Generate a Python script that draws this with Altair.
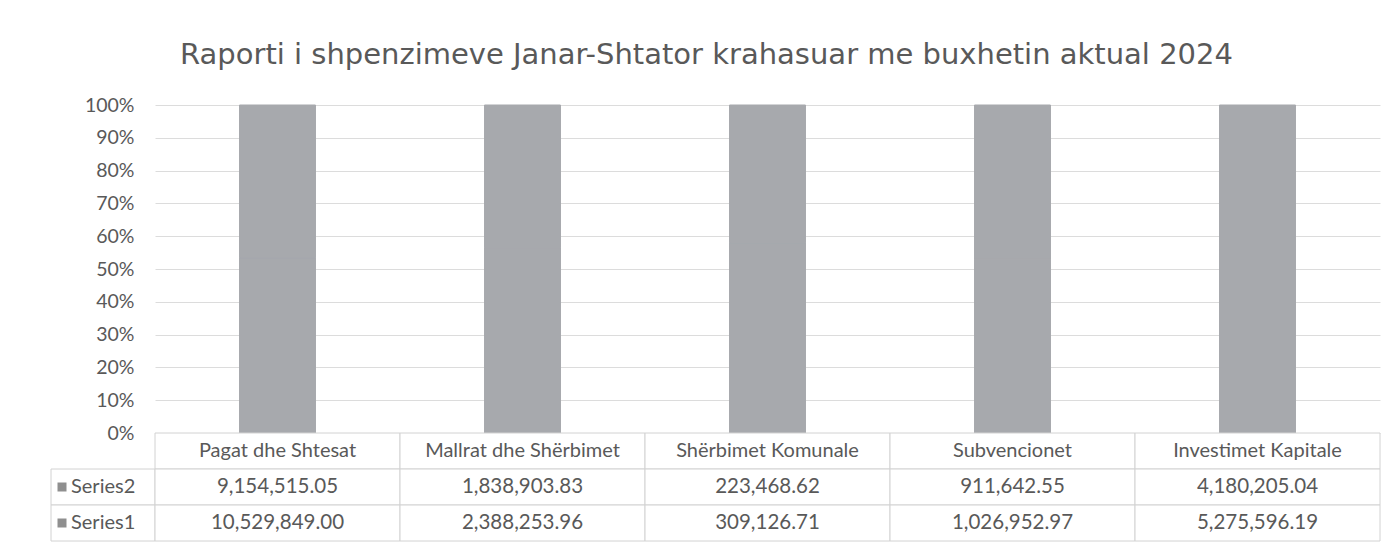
import altair as alt
import pandas as pd

categories = ["Pagat dhe Shtesat", "Mallrat dhe Shërbimet", "Shërbimet Komunale",
              "Subvencionet", "Investimet Kapitale"]
series2 = [9154515.05, 1838903.83, 223468.62, 911642.55, 4180205.04]
series1 = [10529849.00, 2388253.96, 309126.71, 1026952.97, 5275596.19]
series_names = ["Series2", "Series1"]
y_ticks = [0, 0.1, 0.2, 0.3, 0.4, 0.5, 0.6, 0.7, 0.8, 0.9, 1.0]
title_text = "Raporti i shpenzimeve Janar-Shtator krahasuar me buxhetin aktual 2024"

TFONT = "DejaVu Sans"
FONT = "Lato"
TXT = "#595959"
BAR = "#a7a9ad"
GRID = "#dcdcdc"
BORDER = "#d2d2d2"

rows = []
for c, v2, v1 in zip(categories, series2, series1):
    rows.append({"cat": c, "series": "Series1", "value": v1, "ord": 0})
    rows.append({"cat": c, "series": "Series2", "value": v2, "ord": 1})
bars_df = pd.DataFrame(rows)

bars = alt.Chart(bars_df).mark_bar(stroke=BAR, strokeWidth=1).encode(
    x=alt.X("cat:N", sort=categories, axis=None,
            scale=alt.Scale(paddingInner=0.69, paddingOuter=0.345)),
    y=alt.Y("value:Q", stack="normalize",
            scale=alt.Scale(domain=[0, 1], nice=False),
            axis=alt.Axis(format="%", values=y_ticks, domain=False, ticks=False,
                          labelPadding=21, labelFontSize=19.5, labelFont=FONT,
                          labelColor=TXT, gridColor=GRID, gridWidth=1, title="")),
    color=alt.Color("series:N", scale=alt.Scale(domain=["Series1", "Series2"], range=[BAR, BAR]),
                    legend=None),
    order=alt.Order("ord:Q"),
).properties(width=1225, height=328)

row_domain = ["header", "Series2", "Series1"]
trows = []
for c, v2, v1 in zip(categories, series2, series1):
    trows.append({"cat": c, "row": "header", "label": c})
    trows.append({"cat": c, "row": "Series2", "label": f"{v2:,.2f}"})
    trows.append({"cat": c, "row": "Series1", "label": f"{v1:,.2f}"})
tdf = pd.DataFrame(trows)

xs = alt.X("cat:N", sort=categories, axis=None, scale=alt.Scale(paddingInner=0, paddingOuter=0))
ys = alt.Y("row:N", sort=row_domain, axis=None,
           scale=alt.Scale(domain=row_domain, paddingInner=0, paddingOuter=0))

cells = alt.Chart(tdf).mark_rect(fill="white", stroke=BORDER, strokeWidth=1).encode(x=xs, y=ys)
heads = alt.Chart(tdf).transform_filter("datum.row == 'header'").mark_text(
    font=FONT, fontSize=20, color=TXT, dy=0).encode(x=xs, y=ys, text="label:N")
vals = alt.Chart(tdf).transform_filter("datum.row != 'header'").mark_text(
    font=FONT, fontSize=20.5, color=TXT).encode(x=xs, y=ys, text="label:N")

ldf = pd.DataFrame({"row": series_names})
lcells = alt.Chart(ldf).mark_rect(fill="white", stroke=BORDER, strokeWidth=1).encode(
    x=alt.value(-104), x2=alt.value(0), y=ys)
lsq = alt.Chart(ldf).mark_square(size=81, color="#8f8f8f", opacity=1, filled=True).encode(
    x=alt.value(-93), y=ys)
ltxt = alt.Chart(ldf).mark_text(font=FONT, fontSize=20, color=TXT, align="left").encode(
    x=alt.value(-84), y=ys, text="row:N")

table = alt.layer(lcells, cells, heads, vals, lsq, ltxt).properties(width=1225, height=108)

chart = alt.vconcat(bars, table, spacing=0, bounds="flush").resolve_scale(
    x="independent", y="independent"
).properties(
    title=alt.TitleParams(title_text, font=TFONT, fontSize=29, fontWeight="normal",
                          color=TXT, anchor="middle", frame="bounds", offset=25, dx=-9),
    padding={"left": 50, "top": 40, "right": 10, "bottom": 4},
).configure_view(stroke="transparent")

chart.save("out.html", embed_options={"renderer": "svg", "actions": False})
